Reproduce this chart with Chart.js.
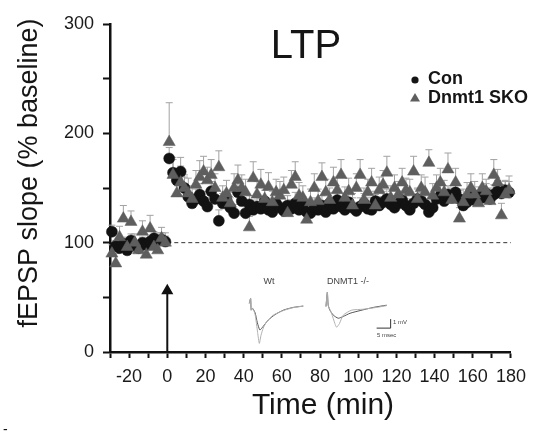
<!DOCTYPE html>
<html>
<head>
<meta charset="utf-8">
<script src="https://cdn.jsdelivr.net/npm/chart.js@4.4.1/dist/chart.umd.min.js"></script>
<style>
  body{margin:0;background:#fff;}
  #wrap{position:relative;width:534px;height:439px;}
  #ltpChart{position:absolute;left:0;top:0;}
  #traceChart{position:absolute;left:240px;top:270px;}
</style>
</head>
<body>
<div id="wrap">
  <canvas id="ltpChart" width="534" height="439"></canvas>
  <canvas id="traceChart" width="180" height="78"></canvas>
</div>
<script>
// time of each sample (min)
const minutes = [-29,-27,-25,-23,-21,-19,-17,-15,-13,-11,-9,-7,-5,-3,-1,
  1,3,5,7,9,11,13,15,17,19, 21,23,25,27,29,31,33,35,37,39,
  41,43,45,47,49,51,53,55,57,59, 61,63,65,67,69,71,73,75,77,79,
  81,83,85,87,89,91,93,95,97,99, 101,103,105,107,109,111,113,115,117,119,
  121,123,125,127,129,131,133,135,137,139, 141,143,145,147,149,151,153,155,157,159,
  161,163,165,167,169,171,173,175,177,179];

const conSlope = [110,97,95,99,93,102,97,95,100,98,101,104,102,103,101,
  177,164,157,165,150,142,136,140,144,138, 133,147,140,120,136,139,132,127,146,138,
  127,135,130,133,131,138,130,128,136,132, 129,134,131,136,130,134,128,127,132,130,
  134,128,136,131,139,133,130,137,132,129, 133,136,131,130,138,134,137,140,135,132,
  136,139,134,130,136,140,138,135,128,132, 140,143,138,144,141,146,140,134,137,142,
  139,143,141,145,140,144,147,145,148,146];
const conErr = [6,5,6,5,7,6,5,6,5,6,5,6,7,6,5,
  10,12,11,13,10,9,8,9,10,9, 8,9,8,10,9,8,9,8,10,9,
  9,8,9,8,9,10,8,9,8,9, 8,9,8,10,9,8,9,8,9,8,
  9,8,10,9,8,9,8,10,9,8, 8,9,10,8,9,8,10,9,8,9,
  9,8,9,10,8,9,8,9,10,8, 8,10,9,8,9,10,8,9,8,9,
  9,8,10,9,8,9,10,8,9,10];

const skoSlope = [90,81,105,122,96,119,100,93,110,89,113,96,93,104,100,
  192,162,145,155,150,145,140,153,160,165, 157,162,150,169,141,145,136,150,157,150,
  146,114,159,144,153,140,151,137,146,143, 148,127,153,160,143,141,121,137,150,138,
  160,146,139,155,148,162,141,147,134,150, 162,139,146,155,134,148,153,164,141,150,
  144,155,148,146,165,140,150,146,173,143, 150,155,146,167,139,155,122,137,144,150,
  144,136,150,147,138,162,155,125,144,148];
const skoErr = [8,9,10,12,9,10,8,9,10,8,12,9,8,10,9,
  36,16,14,15,12,14,12,13,15,14, 12,14,13,15,11,12,10,13,14,12,
  12,10,15,12,14,11,13,10,12,13, 12,10,13,14,12,11,10,12,13,11,
  13,12,11,14,12,14,10,12,11,13, 14,11,12,13,10,12,13,15,11,12,
  12,13,11,12,14,10,12,14,12,11, 12,13,11,15,10,13,10,12,11,13,
  12,10,13,11,12,14,12,11,12,13];

const xTickMarks = [-30,-20,-10,0,10,20,30,40,50,60,70,80,90,100,110,120,130,140,150,160,170,180];
const xTickLabels = [-20,0,20,40,60,80,100,120,140,160,180];
const yTickMarks = [0,50,100,150,200,250,300];
const yTickLabels = [0,100,200,300];

const baselineX = [0,180];
const baselineY = [100,100];
const arrowX = [0,0];
const arrowY = [0,56];

// inset traces (msec, mV)
const wtT      = [3.3,3.8,4.0,4.5,5.4,6.2,7.1,8.3,10.1,12.5,15.5,19,22.6];
const wtDark   = [-0.15,0.4,-0.9,-0.7,-1.2,-2.3,-3.1,-2.7,-2.0,-1.4,-0.9,-0.6,-0.45];
const wtLightT = [3.3,3.8,4.0,4.5,5.4,6.3,6.9,7.5,8.3,9.5,11.9,15.5,19,22.6];
const wtLight  = [-0.15,0.4,-0.9,-0.7,-1.4,-3.4,-4.6,-3.7,-2.9,-2.2,-1.45,-0.95,-0.62,-0.45];
const koT      = [30.7,31.2,31.5,32.1,33.3,35.1,36.9,39.3,42.9,47.6,52.4];
const koDark   = [-0.5,1.1,-0.35,-0.9,-1.45,-1.8,-1.6,-1.25,-0.95,-0.6,-0.35];
const koLightT = [30.7,31.2,31.5,32.7,33.9,34.5,35.5,36.9,39.9,44,48.8,52.4];
const koLight  = [-0.5,1.1,-0.35,-1.25,-2.4,-2.8,-2.4,-1.45,-0.9,-0.8,-0.6,-0.4];
const barT = [48.8,53.8,53.8];
const barV = [-2.9,-2.9,-1.9];

const FONT = "'Liberation Sans', Arial, Helvetica, sans-serif";

function pts(xs, ys){ return xs.map((x,i)=>({x:x, y:ys[i]})); }

const errorBars = {
  id:'errorBars',
  beforeDatasetsDraw(chart){
    const ctx = chart.ctx, ys = chart.scales.y;
    ctx.save();
    ctx.strokeStyle = '#a2a2a2';
    ctx.lineWidth = 1;
    chart.data.datasets.forEach((ds, di)=>{
      if(!ds.errors) return;
      chart.getDatasetMeta(di).data.forEach((p, i)=>{
        const top = ys.getPixelForValue(ds.data[i].y + ds.errors[i]);
        ctx.beginPath();
        ctx.moveTo(p.x, p.y); ctx.lineTo(p.x, top);
        ctx.moveTo(p.x-3.5, top); ctx.lineTo(p.x+3.5, top);
        ctx.stroke();
      });
    });
    ctx.restore();
  }
};

const decorations = {
  id:'decorations',
  afterDraw(chart){
    const ctx = chart.ctx;
    ctx.save();
    ctx.fillStyle = '#151515';
    ctx.textAlign = 'center';
    ctx.textBaseline = 'middle';
    ctx.font = '40px ' + FONT;
    ctx.fillText('LTP', 306, 47);

    ctx.font = '30px ' + FONT;
    ctx.fillText('Time (min)', 323, 406);

    ctx.save();
    ctx.translate(30, 173);
    ctx.rotate(-Math.PI/2);
    ctx.font = '27px ' + FONT;
    ctx.fillText('fEPSP slope (% baseline)', 0, 0);
    ctx.restore();

    // legend
    ctx.textAlign = 'left';
    ctx.font = 'bold 18px ' + FONT;
    ctx.beginPath(); ctx.arc(415, 80, 3.6, 0, Math.PI*2); ctx.fill();
    ctx.fillText('Con', 428, 79);
    ctx.fillStyle = '#5e5e5e';
    ctx.beginPath(); ctx.moveTo(415, 93); ctx.lineTo(420, 101.5); ctx.lineTo(410, 101.5); ctx.closePath(); ctx.fill();
    ctx.fillStyle = '#151515';
    ctx.fillText('Dnmt1 SKO', 428, 98);

    ctx.font = '14px ' + FONT;
    ctx.fillText('-', 3, 430);
    ctx.restore();
  }
};

new Chart(document.getElementById('ltpChart'), {
  type:'scatter',
  data:{
    datasets:[
      {label:'Dnmt1 SKO', data:pts(minutes, skoSlope), errors:skoErr, pointStyle:'triangle',
       pointRadius:7, backgroundColor:'#5e5e5e', borderColor:'#5e5e5e', borderWidth:0.5, order:1, clip:false},
      {label:'Con', data:pts(minutes, conSlope), errors:conErr, pointStyle:'circle',
       pointRadius:5.5, backgroundColor:'#121212', borderColor:'#121212', borderWidth:0.5, order:2, clip:false},
      {type:'line', data:pts(baselineX, baselineY), borderColor:'#333', borderWidth:1, borderDash:[4,3],
       pointRadius:0, order:4, clip:false},
      {type:'line', data:pts(arrowX, arrowY), borderColor:'#111', backgroundColor:'#111', borderWidth:2,
       pointRadius:[0,5], pointStyle:'triangle', order:3, clip:false}
    ]
  },
  options:{
    responsive:false,
    animation:false,
    devicePixelRatio:1,
    layout:{padding:{left:0, right:22, top:24, bottom:0}},
    plugins:{legend:{display:false}, tooltip:{enabled:false}, title:{display:false}},
    scales:{
      x:{
        type:'linear', min:-30, max:180,
        afterBuildTicks:s=>{ s.ticks = xTickMarks.map(v=>({value:v})); },
        afterFit:s=>{ s.height = 87; },
        ticks:{
          autoSkip:false, maxRotation:0, padding:8, color:'#1a1a1a',
          font:{family:FONT, size:18},
          callback:v=>xTickLabels.includes(v) ? String(v) : ''
        },
        grid:{drawOnChartArea:false, tickLength:6, tickWidth:2, tickColor:'#111'},
        border:{color:'#111', width:2.5}
      },
      y:{
        min:0, max:300,
        afterBuildTicks:s=>{ s.ticks = yTickMarks.map(v=>({value:v})); },
        afterFit:s=>{ s.width = 110; },
        ticks:{
          autoSkip:false, padding:9, color:'#1a1a1a',
          font:{family:FONT, size:18},
          callback:v=>yTickLabels.includes(v) ? String(v) : ''
        },
        grid:{drawOnChartArea:false, tickLength:7, tickWidth:2, tickColor:'#111'},
        border:{color:'#111', width:2.5}
      }
    }
  },
  plugins:[errorBars, decorations]
});

// inset: example field potentials
const traceText = {
  id:'traceText',
  afterDraw(chart){
    const ctx = chart.ctx;
    ctx.save();
    ctx.fillStyle = '#444';
    ctx.textAlign = 'center';
    ctx.textBaseline = 'middle';
    ctx.font = '9px ' + FONT;
    ctx.fillText('Wt', 29, 12);
    ctx.fillText('DNMT1 -/-', 108, 12);
    ctx.textAlign = 'left';
    ctx.font = '6px ' + FONT;
    ctx.fillText('1 mV', 153, 52);
    ctx.fillText('5 msec', 137, 65);
    ctx.restore();
  }
};

new Chart(document.getElementById('traceChart'), {
  type:'line',
  data:{
    datasets:[
      {data:pts(wtLightT, wtLight), borderColor:'#b0b0b0', borderWidth:1, pointRadius:0, tension:0.2},
      {data:pts(wtT, wtDark), borderColor:'#555', borderWidth:1, pointRadius:0, tension:0.2},
      {data:pts(koLightT, koLight), borderColor:'#b0b0b0', borderWidth:1, pointRadius:0, tension:0.2},
      {data:pts(koT, koDark), borderColor:'#555', borderWidth:1, pointRadius:0, tension:0.2},
      {data:pts(barT, barV), borderColor:'#333', borderWidth:1, pointRadius:0, tension:0}
    ]
  },
  options:{
    responsive:false,
    animation:false,
    devicePixelRatio:1,
    layout:{padding:0},
    plugins:{legend:{display:false}, tooltip:{enabled:false}},
    scales:{
      x:{type:'linear', display:false, min:0, max:64.29},
      y:{display:false, min:-5.11, max:3.56}
    }
  },
  plugins:[traceText]
});
</script>
</body>
</html>
